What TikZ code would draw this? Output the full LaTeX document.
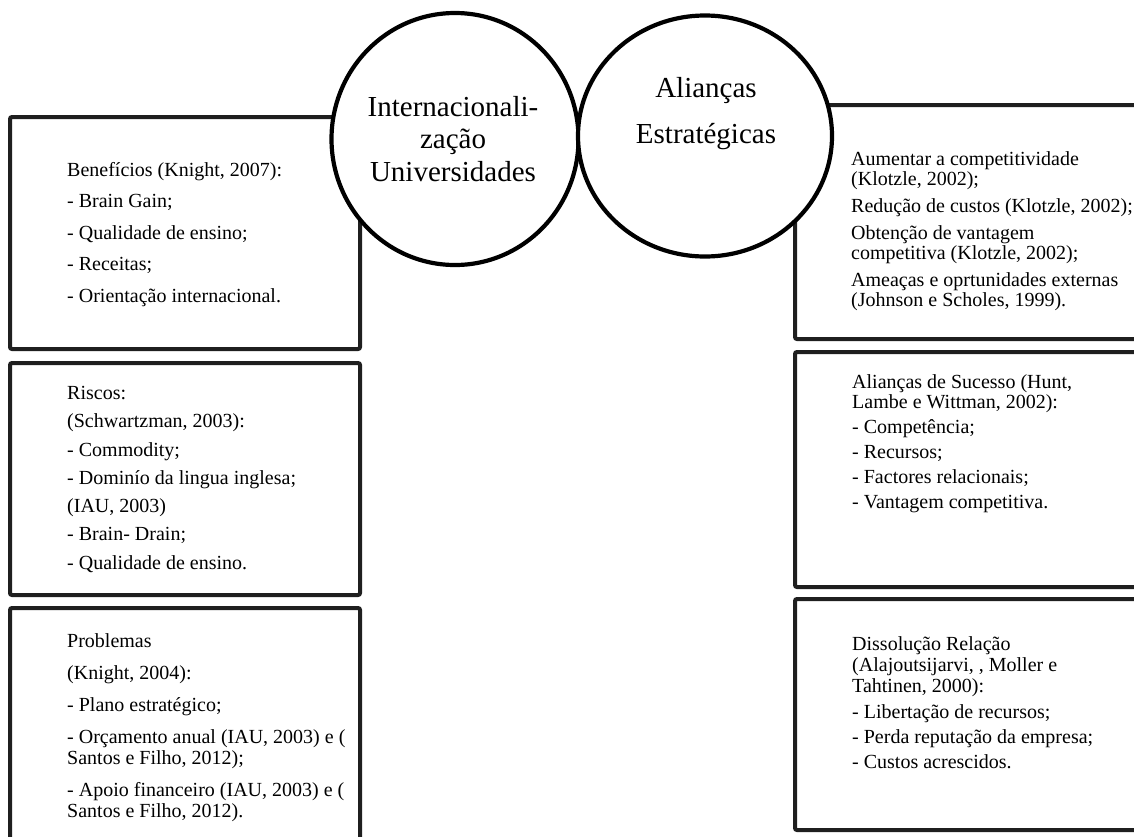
\documentclass[tikz,border=0pt]{standalone}
\usepackage{fontspec}
\setmainfont{Liberation Serif}
\usetikzlibrary{shapes.geometric}
\begin{document}
\begin{tikzpicture}[x=1pt,y=-1pt,
  boxst/.style={draw=black!88,line width=4pt,rounded corners=2pt},
  circst/.style={draw=black,fill=white,line width=4.2pt,ellipse,inner sep=0pt},
  txt/.style={anchor=north west,inner sep=0pt,align=left,font=\fontsize{20}{21}\selectfont},
  ctxt/.style={anchor=north,inner sep=0pt,align=center},
]
\useasboundingbox (0,0) rectangle (1134,836);
\clip (0,0) rectangle (1134,836);
% left boxes
\draw[boxst] (10,117) rectangle (360,349);
\draw[boxst] (10,363) rectangle (360,595);
\draw[boxst] (10,608) rectangle (360,860);
% right boxes
\draw[boxst] (795,105) rectangle (1160,339);
\draw[boxst] (795,352) rectangle (1160,587);
\draw[boxst] (795,599) rectangle (1160,830);
% circles
\node[circst,minimum width=247pt,minimum height=252pt] (c1) at (455,139) {};
\node[circst,minimum width=254pt,minimum height=241pt] (c2) at (705,136) {};
\node[ctxt,font=\fontsize{29}{32.5}\selectfont] (t1) at (453,96) {Internacionali-\\zação\\Universidades};
\node[ctxt,font=\fontsize{29}{46}\selectfont] (t2) at (706,77) {Alianças\\Estratégicas};
% left texts
\node[txt,font=\fontsize{20}{31.5}\selectfont] (l1) at (67,162) {Benefícios (Knight, 2007):\\- Brain Gain;\\- Qualidade de ensino;\\- Receitas;\\- Orientação internacional.};
\node[txt,font=\fontsize{20}{28.3}\selectfont] (l2) at (67,386) {Riscos:\\(Schwartzman, 2003):\\- Commodity;\\- Dominío da lingua inglesa;\\(IAU, 2003)\\- Brain- Drain;\\- Qualidade de ensino.};
\node[txt] (l3) at (67,633) {Problemas\\[11pt](Knight, 2004):\\[11pt]- Plano estratégico;\\[11pt]- Orçamento anual (IAU, 2003) e (\\Santos e Filho, 2012);\\[11pt]- Apoio financeiro (IAU, 2003) e (\\Santos e Filho, 2012).};
% right texts
\node[txt,font=\fontsize{20}{20}\selectfont] (r1) at (851,151) {Aumentar a competitividade\\(Klotzle, 2002);\\[7pt]Redução de custos (Klotzle, 2002);\\[7pt]Obtenção de vantagem\\competitiva (Klotzle, 2002);\\[7pt]Ameaças e oprtunidades externas\\(Johnson e Scholes, 1999).};
\node[txt,font=\fontsize{20}{20}\selectfont] (r2) at (852,374) {Alianças de Sucesso (Hunt,\\Lambe e Wittman, 2002):\\[5pt]- Competência;\\[5pt]- Recursos;\\[5pt]- Factores relacionais;\\[5pt]- Vantagem competitiva.};
\node[txt,font=\fontsize{20}{21}\selectfont] (r3) at (852,636) {Dissolução Relação\\(Alajoutsijarvi, , Moller e\\Tahtinen, 2000):\\[5pt]- Libertação de recursos;\\[4pt]- Perda reputação da empresa;\\[4pt]- Custos acrescidos.};
\end{tikzpicture}
\end{document}
